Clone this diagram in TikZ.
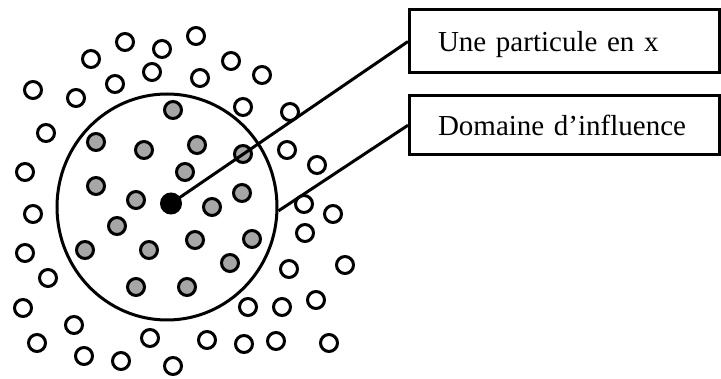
\documentclass[tikz,border=0pt]{standalone}
\usepackage{fontspec}
\setmainfont{Liberation Serif}
\usetikzlibrary{shapes.geometric}
\definecolor{partgray}{HTML}{A6A6A6}
\begin{document}
\begin{tikzpicture}[x=1pt,y=-1pt,
  line width=3pt,
  openpart/.style={circle,draw=black,fill=white,minimum size=17pt,inner sep=0pt,line width=3pt},
  graypart/.style={circle,draw=black,fill=partgray,minimum size=17pt,inner sep=0pt,line width=3pt},
  centerpart/.style={circle,draw=black,fill=black,minimum size=20pt,inner sep=0pt,line width=2pt},
  labelbox/.style={draw=black,line width=3pt,rectangle,minimum width=310pt,inner xsep=28.5pt,
    text width=253pt,align=left,font=\fontsize{29}{32}\selectfont,text height=24pt,text depth=3pt},
  connector/.style={draw=black,line width=3pt}]
\useasboundingbox (0,0) rectangle (721,379);
% domain of influence
\node[ellipse,draw=black,line width=3pt,minimum width=220pt,minimum height=226pt,inner sep=0pt] (dom) at (167,207) {};
% open particles
\foreach \x/\y [count=\i] in {125/42,162/49,196/36,91/59,152/72,115/84,200/78,231/61,262/75,33/90,76/98,
  243/107,290/112,46/133,25/172,287/150,317/165,304/204,333/214,33/214,305/233,25/253,289/269,345/265,
  48/278,23/308,248/307,282/307,316/300,74/325,150/338,207/340,37/343,84/356,121/361,173/366,244/344,
  276/341,329/343}
  \node[openpart] (o\i) at (\x,\y) {};
% gray particles
\foreach \x/\y [count=\i] in {173/110,96/142,144/150,197/145,243/154,185/172,96/186,136/200,212/207,
  242/193,117/226,195/240,252/239,85/250,149/250,230/263,136/287,187/287}
  \node[graypart] (g\i) at (\x,\y) {};
% particle at x
\node[centerpart] (p) at (171,203.5) {};
% label boxes
\node[labelbox,minimum height=63pt] (b1) at (564.5,41.5) {Une particule en x};
\node[labelbox,minimum height=59.5pt] (b2) at (564.5,125.25) {Domaine d’influence};
% connectors
\draw[connector] (p.center) -- (b1.west);
\draw[connector] (dom.-2) -- (b2.west);
\end{tikzpicture}
\end{document}
